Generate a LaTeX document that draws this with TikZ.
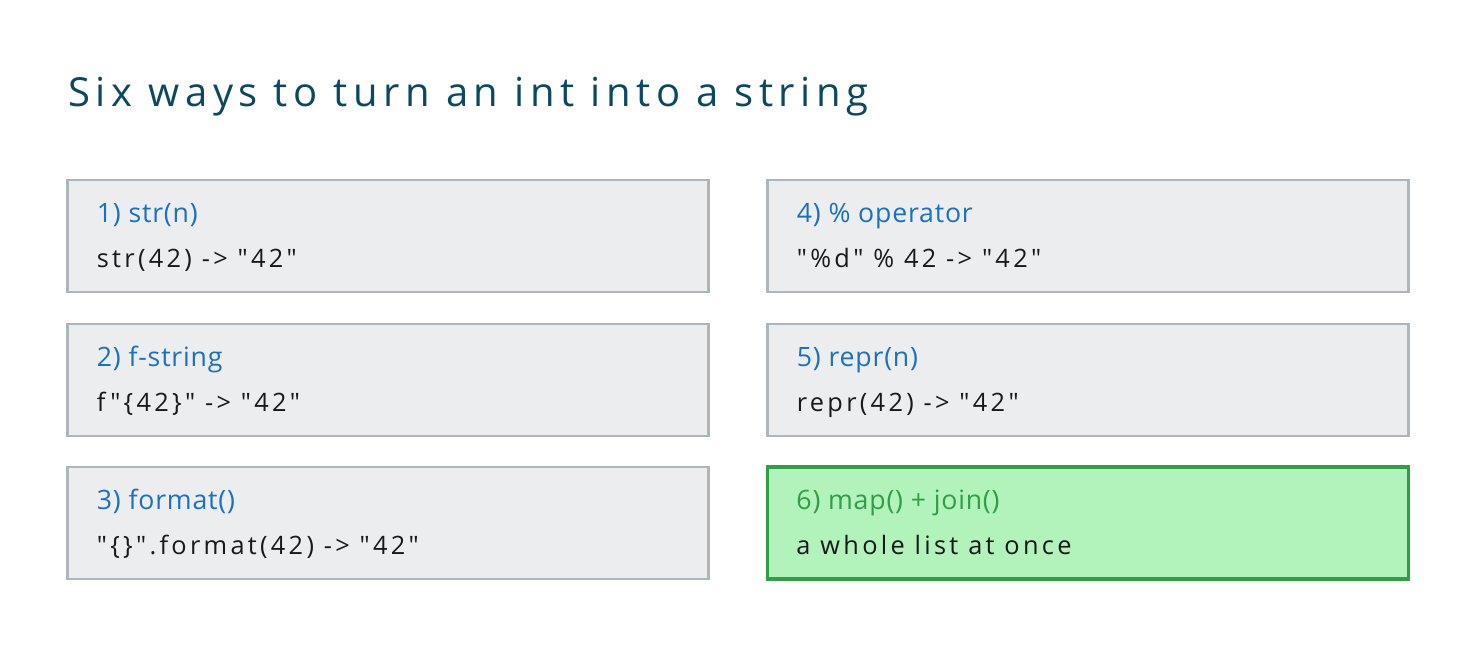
\documentclass[tikz,border=0pt]{standalone}
\usepackage{fontspec}
\setmainfont{Open Sans}[Ligatures=TeXOff]
\newfontfamily\titlefont{Open Sans}[Ligatures=TeXOff, LetterSpace=14]
\newfontfamily\bodyfont{Open Sans}[Ligatures=TeXOff, LetterSpace=13]
\newfontfamily\headfont{Open Sans}[Ligatures=TeXOff, LetterSpace=3]
\usetikzlibrary{positioning}
\definecolor{TitleTeal}{HTML}{0B4A5E}
\definecolor{WayLine}{HTML}{ADB5BD}
\definecolor{WayFill}{HTML}{ECEDEF}
\definecolor{WayHead}{HTML}{1971C2}
\definecolor{KeyLine}{HTML}{2F9E44}
\definecolor{KeyFill}{HTML}{B2F2BB}
\definecolor{KeyHead}{HTML}{2F9E44}
\tikzset{
  waybox/.style={draw=WayLine, fill=WayFill, line width=2.1pt,
    minimum width=481pt, minimum height=84pt, inner sep=0pt},
  keybox/.style={waybox, draw=KeyLine, fill=KeyFill, line width=2.7pt},
  wayhead/.style={anchor=base west, inner sep=0pt, font=\headfont\fontsize{20}{24}\selectfont, text=WayHead},
  keyhead/.style={wayhead, text=KeyHead},
  waybody/.style={anchor=base west, inner sep=0pt, font=\bodyfont\fontsize{19}{22}\selectfont, text=black!90}
}

\begin{document}
\begin{tikzpicture}[x=0.75pt, y=-0.75pt,
  title/.style={anchor=base west, inner sep=0pt, font=\titlefont\fontsize{30}{34}\selectfont, text=TitleTeal}
]
\useasboundingbox[fill=white] (0,0) rectangle (1476,648);

\node[title] (title) at (68,107) {Six ways to turn an int into a string};

% two columns of three cards, the last one highlighted
\foreach \n/\cx/\cy/\bx/\hx/\hd/\bd in {
    1/388/236/waybox/wayhead/{1) str(n)}/{str(42) -> "42"},
    2/388/380/waybox/wayhead/{2) f-string}/{f"\{42\}" -> "42"},
    3/388/523/waybox/wayhead/{3) format()}/{"\{\}".format(42) -> "42"},
    4/1088/236/waybox/wayhead/{4) \% operator}/{"\%d" \% 42 -> "42"},
    5/1088/380/waybox/wayhead/{5) repr(n)}/{repr(42) -> "42"},
    6/1088/523/keybox/keyhead/{6) map() + join()}/{a whole list at once}}{
  \node[\bx] (card\n) at (\cx,\cy) {};
  \node[\hx] (head\n) at ([xshift=23pt,yshift=-33pt]card\n.north west) {\hd};
  \node[waybody] (body\n) at ([yshift=-34pt]head\n.base west) {\bd};
}
\end{tikzpicture}
\end{document}
